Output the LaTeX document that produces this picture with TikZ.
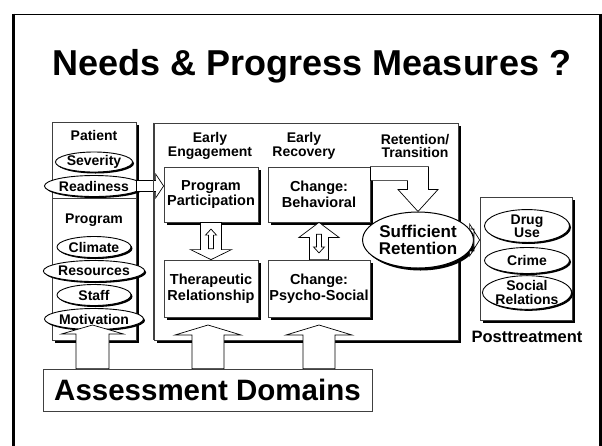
\documentclass[tikz,border=0pt]{standalone}
\usepackage{fontspec}
\setmainfont{Liberation Sans}
\usetikzlibrary{calc,shapes.geometric,shadows}
\newcommand\fs[2]{\fontsize{#1}{#2}\selectfont\bfseries}
\newcommand\blockarrow[6][]{%
  \coordinate (bahead) at ($(#3)!#6!(#2)$);
  \path[hollow,#1] ($(#2)!#4!90:(#3)$) -- ($(bahead)!#4!90:(#3)$) -- ($(bahead)!#5!90:(#3)$) -- (#3)
    -- ($(bahead)!#5!-90:(#3)$) -- ($(bahead)!#4!-90:(#3)$) -- ($(#2)!#4!-90:(#3)$) -- cycle;}
\tikzset{
  shad/.style={drop shadow={shadow xshift=3pt,shadow yshift=-3pt,fill=black,opacity=1}},
  box/.style={draw=black!75,line width=0.8pt,fill=white,shad,inner sep=0pt,align=center},
  oval/.style={ellipse,draw=black,line width=0.9pt,fill=white,inner sep=0pt,align=center,
    drop shadow={shadow xshift=1.5pt,shadow yshift=-1.5pt,fill=black,opacity=1}},
  lbl/.style={align=center,inner sep=0pt},
  hollow/.style={draw=black,line width=0.7pt,fill=white,line join=miter},
  boxtext/.style={font=\fs{14.5}{15.5}},
  ovaltext/.style={font=\fs{14}{13.5}},
  headtext/.style={font=\fs{14}{13.5}}
}
\begin{document}
\begin{tikzpicture}[x=1pt,y=-1pt]
\useasboundingbox (0,0) rectangle (602,445);
% frame
\draw[line width=1pt] (13.5,14) -- (600,14);
\draw[line width=3pt] (13.5,13.5) -- (13.5,446);
\draw[line width=3pt] (600.5,13.5) -- (600.5,446);
% title
\node[font=\fs{36}{36},anchor=base,inner sep=0pt] (title) at (312,75) {Needs \& Progress Measures ?};
% patient
\node[box,minimum width=84pt,minimum height=77pt] (patient) at (94,160.5) {};
\node[lbl,ovaltext] (patientlbl) at (94,135) {Patient};
\node[oval,ovaltext,minimum width=74pt,minimum height=20pt] (severity) at (94,162) {Severity};
\node[oval,ovaltext,minimum width=79pt,minimum height=21pt] (readiness) at (94,186) {Readiness};
% program
\node[box,minimum width=84pt,minimum height=142pt] (program) at (94,269) {};
\node[lbl,ovaltext] (programlbl) at (94,220) {Program};
\node[oval,ovaltext,minimum width=74pt,minimum height=21pt] (climate) at (94,247) {Climate};
\node[oval,ovaltext,minimum width=79pt,minimum height=21pt] (resources) at (94,271) {Resources};
\node[oval,ovaltext,minimum width=74pt,minimum height=21pt] (staff) at (94,295) {Staff};
\node[oval,ovaltext,minimum width=79pt,minimum height=21pt] (motivation) at (94,319) {Motivation};
% main box
\node[box,minimum width=304pt,minimum height=217pt] (main) at (306,231.5) {};
\node[lbl,headtext] (h1) at (210,146) {Early\\Engagement};
\node[lbl,headtext] (h2) at (304,146) {Early\\Recovery};
\node[lbl,headtext] (h3) at (415,146) {Retention/\\Transition};
% inner boxes
\node[box,boxtext,minimum width=94pt,minimum height=55pt] (pp) at (211,194.5) {Program\\Participation};
\node[box,boxtext,minimum width=94pt,minimum height=57pt] (tr) at (211,288.5) {Therapeutic\\Relationship};
\node[box,boxtext,minimum width=102pt,minimum height=55pt] (beh) at (319,194.5) {Change:\\Behavioral};
\node[box,boxtext,minimum width=102pt,minimum height=57pt] (ps) at (319,288.5) {Change:\\Psycho-Social};
% arrows between inner boxes
\blockarrow{pp.south}{tr.north}{10.5pt}{20.5pt}{10pt}
\coordinate (ua1) at ($(pp.south)!0.71!(tr.north)$);
\coordinate (ua2) at ($(pp.south)!0.18!(tr.north)$);
\blockarrow{ua1}{ua2}{2.5pt}{5.5pt}{6pt}
\blockarrow{ps.north}{beh.south}{9.5pt}{20pt}{15pt}
\coordinate (da1) at ($(ps.north)!0.68!(beh.south)$);
\coordinate (da2) at ($(ps.north)!0.18!(beh.south)$);
\blockarrow{da1}{da2}{2.5pt}{5.5pt}{6pt}
% sufficient retention
\node[oval,font=\fs{17}{17},minimum width=90pt,minimum height=56pt,line width=1pt,
  drop shadow={shadow xshift=2.5pt,shadow yshift=-2.5pt,fill=black,opacity=1}] (sr) at (418,240) {Sufficient\\Retention};
% bent arrow behavioral -> sufficient retention
\path[hollow] (beh.north east) -- ($(sr.north |- beh.north)+(10.5,0)$) -- ($(sr.north)+(10.5,-22)$)
  -- ($(sr.north)+(20,-22)$) -- (sr.north) -- ($(sr.north)+(-20,-22)$) -- ($(sr.north)+(-10.5,-22)$)
  -- ($(sr.north |- beh.north)+(-10.5,14)$) -- ($(beh.north east)+(0,14)$) -- cycle;
% posttreatment
\node[box,minimum width=92pt,minimum height=123pt] (post) at (526,258.5) {};
\node[oval,ovaltext,minimum width=85pt,minimum height=32pt] (drug) at (527,226) {Drug\\Use};
\node[oval,ovaltext,minimum width=85pt,minimum height=26pt] (crime) at (527,260.5) {Crime};
\node[oval,ovaltext,minimum width=85pt,minimum height=31pt] (social) at (527,292.5) {Social\\Relations};
\node[lbl,font=\fs{16.5}{16}] (postlbl) at (527,337) {Posttreatment};
% sr -> post
\coordinate (srtip) at (post.west |- sr.east);
\blockarrow{sr.east}{srtip}{11pt}{16pt}{10pt}
% patient -> pp
\coordinate (pa1) at (patient.east |- readiness);
\coordinate (pa2) at (pp.west |- readiness);
\blockarrow{pa1}{pa2}{5.5pt}{12pt}{8pt}
\draw[draw=black!75,line width=0.8pt] (main.north west) -- (main.south west);
% assessment domains
\node[draw=black!75,line width=0.8pt,fill=white,minimum width=329pt,minimum height=42pt,inner sep=0pt,font=\fs{29.5}{29}] (ad) at (207.5,390) {Assessment Domains};
\coordinate (t1) at (92.5,325);
\coordinate (t2) at (208,325);
\coordinate (t3) at (319,325);
\coordinate (s1) at (ad.north -| t1);
\coordinate (s2) at (ad.north -| t2);
\coordinate (s3) at (ad.north -| t3);
\blockarrow{s1}{t1}{16.5pt}{31pt}{9pt}
\blockarrow{s2}{t2}{16pt}{33pt}{10pt}
\blockarrow{s3}{t3}{16pt}{33pt}{10pt}
\end{tikzpicture}
\end{document}
